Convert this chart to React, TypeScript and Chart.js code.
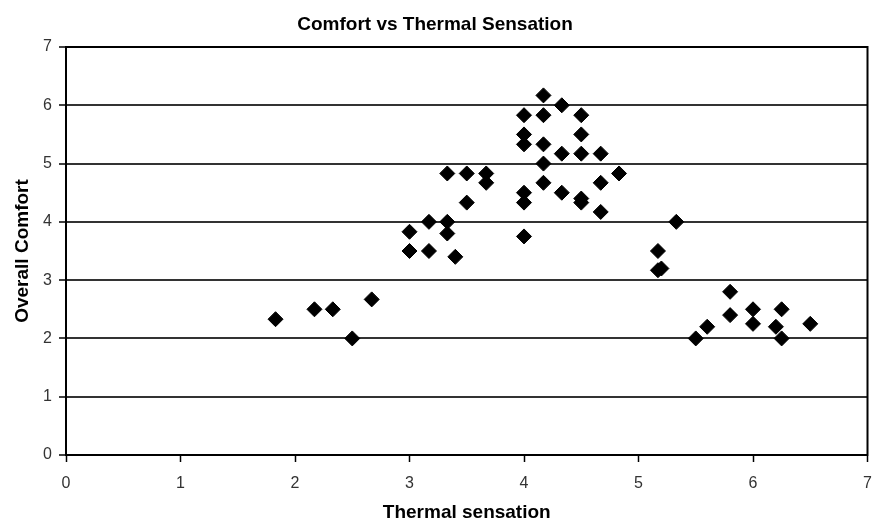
import React, { useEffect, useRef } from "react";
import { Chart, registerables } from "chart.js";

Chart.register(...registerables);

const chartTitle = "Comfort vs Thermal Sensation";
const xAxisTitle = "Thermal sensation";
const yAxisTitle = "Overall Comfort";

const thermalSensation: number[] = [
  1.83, 2.17, 2.33, 2.5, 2.67,
  3.0, 3.0, 3.17, 3.17, 3.33, 3.33, 3.33, 3.4, 3.5, 3.5, 3.67, 3.67,
  4.0, 4.0, 4.0, 4.0, 4.0, 4.0,
  4.17, 4.17, 4.17, 4.17, 4.17,
  4.33, 4.33, 4.33,
  4.5, 4.5, 4.5, 4.5, 4.5,
  4.67, 4.67, 4.67, 4.83,
  5.17, 5.17, 5.2, 5.33,
  5.5, 5.6, 5.8, 5.8, 6.0, 6.0, 6.2, 6.25, 6.25, 6.5,
];

const overallComfort: number[] = [
  2.33, 2.5, 2.5, 2.0, 2.67,
  3.83, 3.5, 4.0, 3.5, 4.83, 4.0, 3.8, 3.4, 4.83, 4.33, 4.83, 4.67,
  5.83, 5.5, 5.33, 4.5, 4.33, 3.75,
  6.17, 5.83, 5.33, 5.0, 4.67,
  6.0, 5.17, 4.5,
  5.83, 5.5, 5.17, 4.4, 4.33,
  5.17, 4.67, 4.17, 4.83,
  3.5, 3.17, 3.2, 4.0,
  2.0, 2.2, 2.8, 2.4, 2.5, 2.25, 2.2, 2.5, 2.0, 2.25,
];

const axisMin = 0;
const axisMax = 7;
const tickStep = 1;

const FONT = "'Liberation Sans', Arial, Helvetica, sans-serif";

const borderPlugin = {
  id: "plotBorder",
  afterDraw(chart: any) {
    const { ctx, chartArea } = chart;
    ctx.save();
    ctx.strokeStyle = "#000";
    ctx.lineWidth = 2;
    ctx.strokeRect(
      chartArea.left,
      chartArea.top,
      chartArea.right - chartArea.left,
      chartArea.bottom - chartArea.top
    );
    ctx.restore();
  },
};

export default function App() {
  const canvasRef = useRef<HTMLCanvasElement | null>(null);

  useEffect(() => {
    document.body.style.margin = "0";
    const canvas = canvasRef.current;
    if (!canvas) return;
    const points = thermalSensation.map((x, i) => ({ x, y: overallComfort[i] }));
    const chart = new Chart(canvas, {
      type: "scatter",
      data: {
        datasets: [
          {
            data: points,
            pointStyle: "rectRot",
            pointRadius: 7.5,
            pointBackgroundColor: "#000",
            pointBorderColor: "#000",
            pointBorderWidth: 1,
          },
        ],
      },
      options: {
        animation: false,
        responsive: false,
        maintainAspectRatio: false,
        layout: { padding: { left: 0, right: 6, top: 0, bottom: 0 } },
        plugins: {
          legend: { display: false },
          tooltip: { enabled: false },
          title: {
            display: true,
            text: chartTitle,
            color: "#000",
            font: { family: FONT, size: 19, weight: "bold" },
            padding: { top: 13.6, bottom: 10.6 },
          },
        },
        scales: {
          x: {
            type: "linear",
            min: axisMin,
            max: axisMax,
            afterFit(scale: any) {
              scale.height = 64;
            },
            ticks: {
              stepSize: tickStep,
              color: "#333",
              padding: 0,
              font: { family: FONT, size: 16, lineHeight: 2.75 },
            },
            grid: {
              drawOnChartArea: false,
              drawTicks: true,
              tickLength: 7,
              tickColor: "#000",
              tickWidth: 1.5,
            },
            border: { color: "#000", width: 2 },
            title: {
              display: true,
              text: xAxisTitle,
              color: "#000",
              font: { family: FONT, size: 19, weight: "bold", lineHeight: 1 },
              padding: { top: 0, bottom: -3 },
            },
          },
          y: {
            type: "linear",
            min: axisMin,
            max: axisMax,
            afterFit(scale: any) {
              scale.width = 66;
            },
            ticks: {
              stepSize: tickStep,
              color: "#333",
              padding: 7,
              font: { family: FONT, size: 16 },
            },
            grid: {
              color: "#333",
              lineWidth: 2,
              drawTicks: true,
              tickLength: 7,
              tickColor: "#000",
              tickWidth: 1.5,
            },
            border: { color: "#000", width: 2 },
            title: {
              display: true,
              text: yAxisTitle,
              color: "#000",
              font: { family: FONT, size: 19, weight: "bold" },
              padding: { top: 11, bottom: 0 },
            },
          },
        },
      },
      plugins: [borderPlugin],
    });
    return () => chart.destroy();
  }, []);

  return (
    <div style={{ position: "fixed", left: 0, top: 0, width: 876, height: 519, background: "#fff" }}>
      <canvas ref={canvasRef} width={876} height={519} style={{ display: "block" }} />
    </div>
  );
}
